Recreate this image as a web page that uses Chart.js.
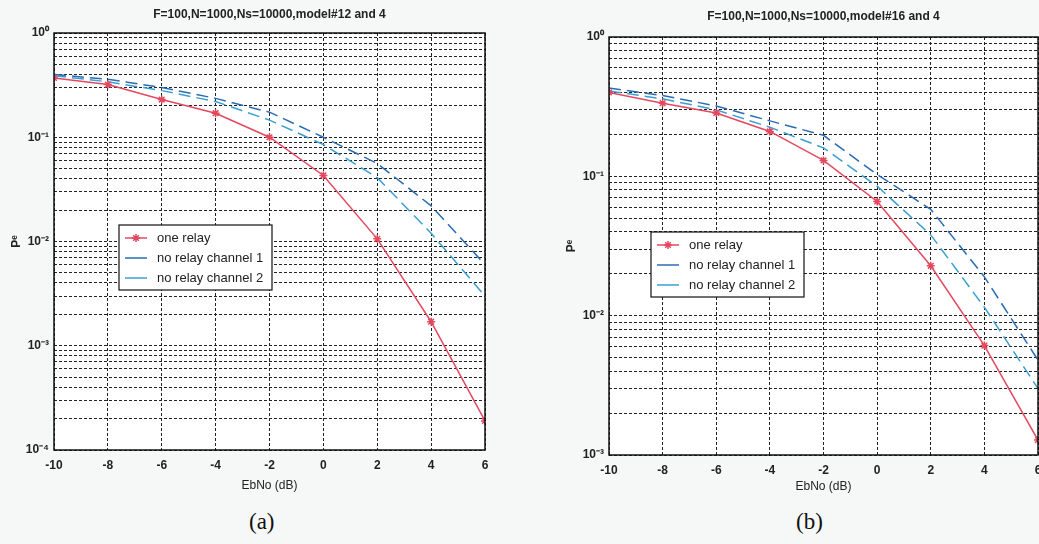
<!DOCTYPE html>
<html>
<head>
<meta charset="utf-8">
<script src="https://cdn.jsdelivr.net/npm/chart.js@4.4.0/dist/chart.umd.min.js"></script>
<style>
  html, body { margin: 0; padding: 0; background: #f6f8f7; overflow: hidden; }
  body { width: 1039px; height: 544px; position: relative; }
  .panel { position: absolute; top: 0; }
  #panelA { left: 0; width: 520px; height: 497px; }
  #panelB { left: 520px; width: 530px; height: 498px; }
  .caption { position: absolute; top: 509px; font-family: "Liberation Serif", "DejaVu Serif", serif; font-size: 23px; color: #111; }
</style>
</head>
<body>
<div class="panel" id="panelA"><canvas id="chartA"></canvas></div>
<div class="panel" id="panelB"><canvas id="chartB"></canvas></div>
<div class="caption" style="left:249px">(a)</div>
<div class="caption" style="left:796px">(b)</div>
<script>
// EbNo (dB) on the x axis
const ebno = [-10, -8, -6, -4, -2, 0, 2, 4, 6];
const xTicks = [-10, -8, -6, -4, -2, 0, 2, 4, 6];

// (a) model#12 and 4
const titleA = 'F=100,N=1000,Ns=10000,model#12 and 4';
const oneRelayA = [0.37, 0.32, 0.23, 0.17, 0.10, 0.043, 0.0106, 0.0017, 0.00019];
const noRelay1A = [0.40, 0.36, 0.30, 0.236, 0.174, 0.10, 0.056, 0.022, 0.006];
const noRelay2A = [0.39, 0.34, 0.28, 0.22, 0.146, 0.085, 0.041, 0.012, 0.003];

// (b) model#16 and 4
const titleB = 'F=100,N=1000,Ns=10000,model#16 and 4';
const oneRelayB = [0.40, 0.335, 0.285, 0.21, 0.13, 0.066, 0.0228, 0.0061, 0.00128];
const noRelay1B = [0.43, 0.38, 0.32, 0.25, 0.197, 0.103, 0.058, 0.019, 0.0048];
const noRelay2B = [0.41, 0.36, 0.30, 0.225, 0.16, 0.085, 0.038, 0.0115, 0.003];

const seriesLabels = ['one relay', 'no relay channel 1', 'no relay channel 2'];
const decadesA = [-4, -3, -2, -1];
const decadesB = [-3, -2, -1];

const SUP = { '-': '\u207B', '0': '\u2070', '1': '\u00B9', '2': '\u00B2', '3': '\u00B3', '4': '\u2074' };
function powLabel(e) {
    return '10' + String(e).split('').map(c => SUP[c]).join('');
}

// 1..9 x 10^k grid, like matlab minor grid
function logTicks(decades) {
    const t = [];
    decades.forEach(d => {
        for (let m = 1; m <= 9; m++) t.push(m * Math.pow(10, d));
    });
    t.push(1);
    return t;
}

const COLORS = { red: '#e4485f', blue1: '#2a6cb3', blue2: '#3a9fd2' };

// white plot box, black frame, title and legend box
const matlabLook = {
    id: 'matlabLook',
    beforeDraw(chart) {
        const a = chart.chartArea, c = chart.ctx;
        c.save();
        c.fillStyle = '#ffffff';
        c.fillRect(a.left, a.top, a.right - a.left, a.bottom - a.top);
        c.restore();
    },
    afterDraw(chart, args, opts) {
        const a = chart.chartArea, c = chart.ctx;
        c.save();
        c.strokeStyle = '#111';
        c.lineWidth = 1.5;
        c.strokeRect(a.left, a.top, a.right - a.left, a.bottom - a.top);

        c.fillStyle = '#222';
        c.font = 'bold 12px Arial, "Liberation Sans", sans-serif';
        c.textAlign = 'center';
        c.textBaseline = 'middle';
        c.fillText(opts.title, (a.left + a.right) / 2, opts.titleY);

        // legend
        const bx = a.left + opts.legendX, by = a.top + opts.legendY;
        c.fillStyle = '#fff';
        c.fillRect(bx, by, 153, 65);
        c.strokeStyle = '#111';
        c.lineWidth = 1.2;
        c.strokeRect(bx, by, 153, 65);
        c.font = '13px Arial, "Liberation Sans", sans-serif';
        c.textAlign = 'left';
        chart.data.datasets.forEach((ds, i) => {
            const y = by + 13 + i * 20;
            c.strokeStyle = ds.borderColor;
            c.lineWidth = 1.5;
            c.beginPath();
            c.moveTo(bx + 6, y);
            c.lineTo(bx + 28, y);
            c.stroke();
            if (ds.pointRadius > 0) {
                Chart.helpers.drawPoint(c, { pointStyle: 'star', radius: 4, rotation: 0, borderWidth: 1.5 }, bx + 17, y);
            }
            c.fillStyle = '#222';
            c.fillText(ds.label, bx + 38, y);
        });
        c.restore();
    }
};

function makeChart(id, cfg) {
    const toXY = arr => arr.map((v, i) => ({ x: ebno[i], y: v }));
    const yTicks = logTicks(cfg.decades);
    return new Chart(document.getElementById(id), {
        type: 'line',
        data: {
            datasets: [
                {
                    label: seriesLabels[0], data: toXY(cfg.one),
                    borderColor: COLORS.red, backgroundColor: COLORS.red,
                    borderWidth: 1.5, pointStyle: 'star', pointRadius: 4,
                    pointBorderWidth: 1.5, pointBorderColor: COLORS.red, tension: 0
                },
                {
                    label: seriesLabels[1], data: toXY(cfg.ch1),
                    borderColor: COLORS.blue1, borderWidth: 1.5, borderDash: [12, 6],
                    pointRadius: 0, tension: 0
                },
                {
                    label: seriesLabels[2], data: toXY(cfg.ch2),
                    borderColor: COLORS.blue2, borderWidth: 1.5, borderDash: [12, 6],
                    pointRadius: 0, tension: 0
                }
            ]
        },
        options: {
            responsive: true,
            maintainAspectRatio: false,
            animation: false,
            layout: { padding: { top: cfg.top, right: cfg.right, left: cfg.left, bottom: 0 } },
            plugins: {
                legend: { display: false },
                tooltip: { enabled: false },
                matlabLook: { title: cfg.title, titleY: cfg.titleY, legendX: cfg.legendX, legendY: cfg.legendY }
            },
            scales: {
                x: {
                    type: 'linear', min: -10, max: 6,
                    afterBuildTicks: s => { s.ticks = xTicks.map(v => ({ value: v })); },
                    afterFit: s => { s.height = cfg.xHeight; },
                    grid: { color: '#222', lineWidth: 1, drawTicks: false },
                    border: { display: false, dash: [3, 2] },
                    ticks: {
                        padding: 8, color: '#222',
                        font: { family: 'Arial, "Liberation Sans", sans-serif', size: 12, weight: 'bold' }
                    },
                    title: {
                        display: true, text: 'EbNo (dB)', color: '#222',
                        padding: { top: 0, bottom: 4 },
                        font: { family: 'Arial, "Liberation Sans", sans-serif', size: 12 }
                    }
                },
                y: {
                    type: 'logarithmic', min: Math.pow(10, cfg.decades[0]), max: 1,
                    afterBuildTicks: s => { s.ticks = yTicks.map(v => ({ value: v })); },
                    afterFit: s => { s.width = 54; },
                    grid: { color: '#222', lineWidth: 1, drawTicks: false },
                    border: { display: false, dash: [3, 2] },
                    ticks: {
                        autoSkip: false, padding: 5, color: '#222',
                        font: { family: 'Arial, "Liberation Sans", sans-serif', size: 12, weight: 'bold' },
                        callback: v => {
                            const e = Math.log10(v);
                            return Math.abs(e - Math.round(e)) < 1e-9 ? powLabel(Math.round(e)) : '';
                        }
                    },
                    title: {
                        display: true, text: 'P\u1D49', color: '#222',
                        padding: { top: 9, bottom: 0 },
                        font: { family: 'Arial, "Liberation Sans", sans-serif', size: 12, weight: 'bold' }
                    }
                }
            }
        },
        plugins: [matlabLook]
    });
}

makeChart('chartA', {
    title: titleA, one: oneRelayA, ch1: noRelay1A, ch2: noRelay2A, decades: decadesA,
    top: 33, right: 35, left: 0, xHeight: 47, titleY: 15, legendX: 65, legendY: 192
});
makeChart('chartB', {
    title: titleB, one: oneRelayB, ch1: noRelay1B, ch2: noRelay2B, decades: decadesB,
    top: 37, right: 12, left: 35, xHeight: 43, titleY: 17, legendX: 42, legendY: 195
});
</script>
</body>
</html>
